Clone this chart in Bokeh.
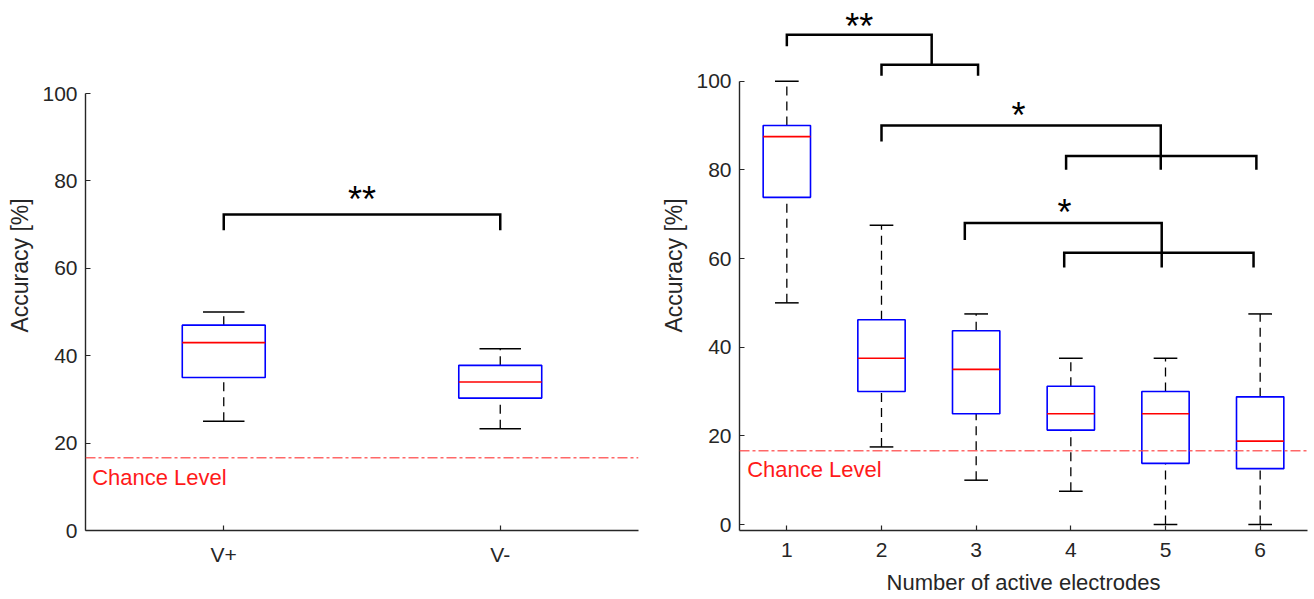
from bokeh.plotting import figure
from bokeh.models import Range1d, FixedTicker, Span
from bokeh.layouts import row
from bokeh.core.properties import value
from bokeh.embed import file_html
from bokeh.resources import INLINE
import numpy as np

# ---------------- data ----------------
cond_labels = ["V+", "V-"]
cond_whisker_low = [25.0, 23.3]
cond_q1 = [35.0, 30.3]
cond_median = [43.0, 34.0]
cond_q3 = [47.0, 37.8]
cond_whisker_high = [50.0, 41.6]

elec_labels = ["1", "2", "3", "4", "5", "6"]
elec_whisker_low = [50.0, 17.5, 10.0, 7.5, 0.0, 0.0]
elec_q1 = [73.8, 30.0, 25.0, 21.3, 13.8, 12.6]
elec_median = [87.5, 37.5, 35.0, 25.0, 25.0, 18.8]
elec_q3 = [90.0, 46.2, 43.7, 31.2, 30.0, 28.8]
elec_whisker_high = [100.0, 67.5, 47.5, 37.5, 37.5, 47.5]

chance_level = 100.0 / 6.0
chance_text = "Chance Level"
y_ticks = [0, 20, 40, 60, 80, 100]

# significance bracket (left panel)
left_br_x = [1.0, 2.0]
left_br_y = 72.3
left_br_drop = 68.7
left_star = "**"
left_star_x = 1.5
left_star_y = 75.7

# significance brackets (right panel), one entry per group
top_x0 = [1.0, 2.0, 2.88]
top_y = [110.5, 90.0, 68.0]
top_drop = [107.9, 86.4, 64.2]
stem_x = [2.53, 4.95, 4.96]
stem_bottom = [103.7, 80.0, 58.0]
low_x0 = [2.0, 3.95, 3.93]
low_x1 = [3.02, 5.96, 5.93]
low_y = [103.7, 83.1, 61.3]
low_drop = [101.2, 80.0, 58.0]
star_text = ["**", "*", "*"]
star_x = [1.765, 3.448, 3.933]
star_y = [112.4, 92.2, 70.4]

FONT = "Liberation Sans"
AXC = "#262626"


def style(p, xlabel, ylabel):
    p.outline_line_color = None
    p.xgrid.grid_line_color = None
    p.ygrid.grid_line_color = None
    for ax in (p.xaxis[0], p.yaxis[0]):
        ax.axis_line_color = AXC
        ax.axis_line_width = 1.4
        ax.major_tick_line_color = AXC
        ax.major_tick_line_width = 1.2
        ax.major_tick_in = 5
        ax.major_tick_out = 0
        ax.minor_tick_line_color = None
        ax.major_label_text_font = FONT
        ax.major_label_text_font_size = "21px"
        ax.major_label_text_color = AXC
        ax.axis_label_text_font = FONT
        ax.axis_label_text_font_style = "normal"
        ax.axis_label_text_color = AXC
    p.xaxis.axis_label_text_font_size = "22px"
    p.yaxis.axis_label_text_font_size = "23px"
    p.xaxis.axis_label = xlabel
    p.yaxis.axis_label = ylabel
    p.yaxis.ticker = FixedTicker(ticks=y_ticks)
    p.yaxis.major_label_standoff = 8
    p.yaxis.axis_label_standoff = 6
    p.xaxis.major_label_standoff = 12
    p.xaxis.axis_label_standoff = 10


def boxes(p, pos, lo, q1, med, q3, hi, width):
    pos = np.asarray(pos, dtype=float)
    half = width / 2.0
    cap = width / 4.0
    p.segment(pos, q3, pos, hi, line_color="black", line_width=1.3, line_dash="9 6")
    p.segment(pos, lo, pos, q1, line_color="black", line_width=1.3, line_dash="9 6")
    p.segment(pos - cap, hi, pos + cap, hi, line_color="black", line_width=1.5)
    p.segment(pos - cap, lo, pos + cap, lo, line_color="black", line_width=1.5)
    p.quad(left=pos - half, right=pos + half, bottom=q1, top=q3,
           fill_color=None, line_color="#0000ff", line_width=1.6)
    p.segment(pos - half, med, pos + half, med, line_color="#ff0000", line_width=1.6)


def chance(p, x, y):
    p.add_layout(Span(location=chance_level, dimension="width", line_color="#ff4d4d",
                      line_alpha=0.85, line_width=1.5, line_dash="10 3 3 3"))
    p.text(x=[x], y=[y], text=[chance_text], text_color="#ff1a1a",
           text_font=value(FONT), text_font_size="22px", text_baseline="middle",
           text_align="left")


H = 599
FRAME_H = 530
BOTTOM = H - FRAME_H

# ---------------- left panel ----------------
p1 = figure(width=658, height=H, output_backend="svg", toolbar_location=None,
            x_range=Range1d(0.5, 2.5), y_range=Range1d(0, 121.3),
            min_border_left=85, min_border_right=20, min_border_top=0,
            min_border_bottom=BOTTOM, background_fill_color="white", border_fill_color="white")
style(p1, "", "Accuracy [%]")
p1.yaxis.bounds = (0, 100)
cond_pos = list(range(1, len(cond_labels) + 1))
p1.xaxis.ticker = FixedTicker(ticks=cond_pos)
p1.xaxis.major_label_overrides = {i: lab for i, lab in zip(cond_pos, cond_labels)}
chance(p1, 0.524, 12.1)
boxes(p1, cond_pos, cond_whisker_low, cond_q1, cond_median, cond_q3, cond_whisker_high, 0.3)
p1.line([left_br_x[0], left_br_x[0], left_br_x[1], left_br_x[1]],
        [left_br_drop, left_br_y, left_br_y, left_br_drop],
        line_color="black", line_width=2.5, line_join="miter")
p1.text(x=[left_star_x], y=[left_star_y], text=[left_star], text_font=value(FONT),
        text_font_size="36px", text_align="center", text_baseline="alphabetic",
        text_color="black")

# ---------------- right panel ----------------
p2 = figure(width=656, height=H, output_backend="svg", toolbar_location=None,
            x_range=Range1d(0.5, 6.5), y_range=Range1d(-1.35, 118.2),
            min_border_left=81, min_border_right=7, min_border_top=0,
            min_border_bottom=BOTTOM, background_fill_color="white", border_fill_color="white")
style(p2, "Number of active electrodes", "Accuracy [%]")
p2.yaxis.bounds = (-1.35, 100)
elec_pos = list(range(1, len(elec_labels) + 1))
p2.xaxis.ticker = FixedTicker(ticks=elec_pos)
p2.xaxis.major_label_overrides = {i: lab for i, lab in zip(elec_pos, elec_labels)}
chance(p2, 0.581, 12.5)
boxes(p2, elec_pos, elec_whisker_low, elec_q1, elec_median, elec_q3, elec_whisker_high, 0.5)

xs, ys = [], []
for i in range(len(top_y)):
    xs.append([top_x0[i], top_x0[i], stem_x[i], stem_x[i]])
    ys.append([top_drop[i], top_y[i], top_y[i], stem_bottom[i]])
    xs.append([low_x0[i], low_x0[i], low_x1[i], low_x1[i]])
    ys.append([low_drop[i], low_y[i], low_y[i], low_drop[i]])
p2.multi_line(xs, ys, line_color="black", line_width=2.5, line_join="miter")
p2.text(x=star_x, y=star_y, text=star_text, text_font=value(FONT), text_font_size="36px",
        text_align="center", text_baseline="alphabetic", text_color="black")

layout = row(p1, p2)
open("out.html", "w").write(file_html(layout, INLINE))
